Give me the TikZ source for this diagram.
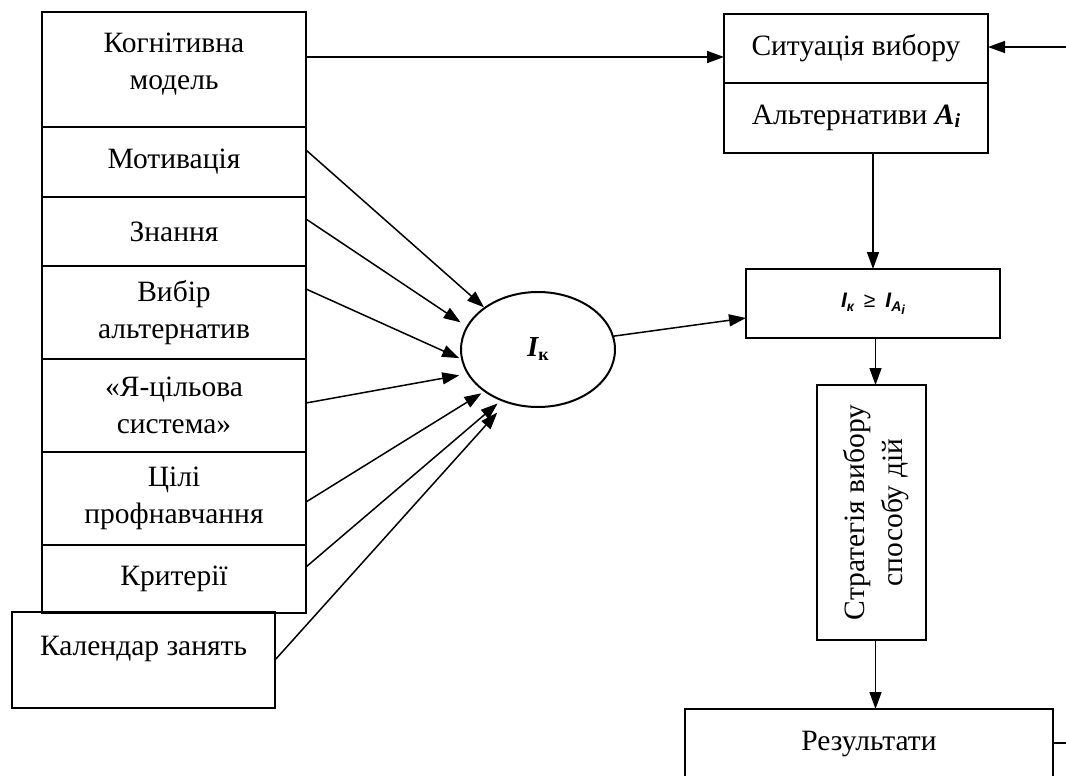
\documentclass[tikz,border=0pt]{standalone}
\usepackage{fontspec}
\setmainfont{Liberation Serif}
\newfontfamily\arialfont{Liberation Sans}
\usetikzlibrary{arrows.meta,positioning,shapes.geometric}

\begin{document}
\begin{tikzpicture}[x=1pt,y=-1pt,>={Triangle[length=17pt,width=12pt]},line width=1.5pt,
                    box node/.style={draw,line width=2pt,inner sep=0pt,outer sep=0pt,align=center,
                                     font=\fontsize{29.5}{37}\selectfont},
                    stack node/.style={box node,minimum width=264pt}]
  \useasboundingbox (0,0) rectangle (1066,776);

  % left column of factors
  \node[stack node,minimum height=115pt,anchor=north west,text depth=16pt] (cog) at (42,12) {Когнітивна\\модель};
  \node[stack node,minimum height=70pt,below=0pt of cog] (mot) {Мотивація};
  \node[stack node,minimum height=69pt,below=0pt of mot] (zn) {Знання};
  \node[stack node,minimum height=93pt,below=0pt of zn] (vyb) {Вибір\\альтернатив};
  \node[stack node,minimum height=93pt,below=0pt of vyb] (ya) {«Я-цільова\\система»};
  \node[stack node,minimum height=93pt,below=0pt of ya] (cil) {Цілі\\профнавчання};
  \node[stack node,minimum height=68pt,below=0pt of cil] (krit) {Критерії};
  \node[box node,minimum width=263pt,minimum height=96pt,anchor=north west,text depth=28pt] (cal) at (12,612) {Календар занять};

  \node[draw,ellipse,line width=2pt,minimum width=154pt,minimum height=115pt,inner sep=0pt,
        font=\fontsize{29}{29}\selectfont] (ell) at (538,349.5)
        {\bfseries\itshape I\raisebox{-4pt}{\fontsize{18}{18}\selectfont\upshape к}};

  % right column
  \node[box node,minimum width=264pt,minimum height=69pt,anchor=north west] (sit) at (724,14) {Ситуація вибору};
  \node[box node,minimum width=264pt,minimum height=70pt,below=0pt of sit] (alt)
        {Альтернативи {\bfseries\itshape A\raisebox{-3pt}{\fontsize{20}{20}\selectfont i}}};
  \node[box node,minimum width=254pt,minimum height=69pt,anchor=north west,
        font=\arialfont\bfseries\itshape\fontsize{21}{21}\selectfont] (ineq) at (746,269)
        {I\raisebox{-4pt}{\fontsize{14}{14}\selectfont к}\hspace{10pt}{\upshape\mdseries ≥}\hspace{10pt}I\raisebox{-4pt}{\fontsize{14}{14}\selectfont A\raisebox{-3pt}{\fontsize{13}{13}\selectfont i}}};
  \node[box node,minimum width=109pt,minimum height=255pt,anchor=north west] (strat) at (817,385) {};
  \node[align=center,rotate=90,inner sep=0pt,font=\fontsize{29.5}{38}\selectfont] (stratlbl) at ([xshift=5pt]strat) {Стратегія вибору\\способу дій};
  \node[box node,minimum width=368pt,minimum height=70pt,anchor=north west] (res) at (685,709) {Результати};

  \coordinate (feed) at (1070,47);
  \coordinate (out) at (1070,743);

  \path[->]
    ([yshift=12pt]mot.east) edge (ell.142)
    ([yshift=12.5pt]zn.east) edge [shorten >=7pt] (ell.162)
    ([yshift=23.5pt]vyb.east) edge [shorten >=2pt] (ell.187)
    ([yshift=2.5pt]ya.east) edge [shorten >=8pt] (ell.199)
    ([yshift=-3.5pt]cil.east) edge [shorten >=3pt] (ell.218)
    ([yshift=12pt]krit.east) edge [shorten >=4pt] (ell.234)
    (cal.east) edge [shorten >=13pt] (ell.239)

    ([yshift=12.5pt]cog.east) edge ([yshift=12.5pt]cog.east -| sit.west)
    (feed) edge (feed -| sit.east)
    (alt.south -| ineq.north) edge (ineq.north)
    (ell.10) edge ([yshift=-14.5pt]ineq.west)
    ([xshift=4pt]strat.north |- ineq.south) edge ([xshift=4pt]strat.north)
    ([xshift=4pt]strat.south) edge ([xshift=4pt]strat.south |- res.north);

  \draw (res.east |- out) -- (out);
\end{tikzpicture}
\end{document}
